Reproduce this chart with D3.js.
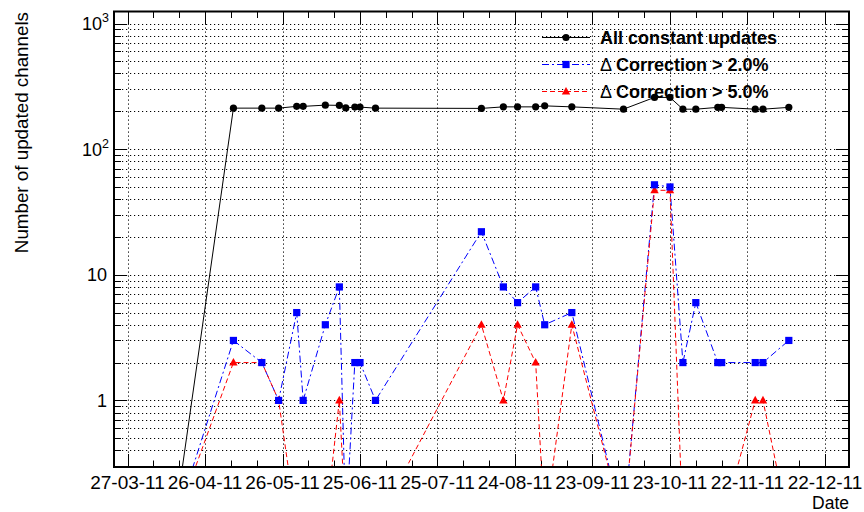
<!DOCTYPE html>
<html>
<head>
<meta charset="utf-8">
<script src="https://cdn.jsdelivr.net/npm/d3@7/dist/d3.min.js"></script>
<style>
  html, body { margin: 0; padding: 0; background: #fff; }
  svg { display: block; font-family: "Liberation Sans", Arial, Helvetica, sans-serif; }
</style>
</head>
<body>
<svg id="chart" width="864" height="512"></svg>
<script>
// ---------------- data ----------------
const dates = ["2011-04-14", "2011-05-07", "2011-05-18", "2011-05-24T12:00", "2011-05-31T12:00",
  "2011-06-03", "2011-06-11T14:00", "2011-06-17", "2011-06-19T12:00", "2011-06-23", "2011-06-25",
  "2011-07-01", "2011-08-11", "2011-08-19T12:00", "2011-08-25", "2011-09-01", "2011-09-04T12:00",
  "2011-09-15", "2011-10-05", "2011-10-17", "2011-10-23", "2011-10-28", "2011-11-02",
  "2011-11-10T12:00", "2011-11-12", "2011-11-25", "2011-11-28", "2011-12-08"];
const allUpdates = [0, 212, 212, 212, 219, 219, 224, 223, 213, 216, 216, 212, 211, 217, 217, 217, 221,
  217, 208, 258, 258, 208, 208, 215, 215, 208, 208, 215];
const corr2 = [0, 3, 2, 1, 5, 1, 4, 8, 0, 2, 2, 1, 22, 8, 6, 8, 4, 5, 0, 52, 50, 2, 6, 2, 2, 2, 2, 3];
const corr5 = [0, 2, 2, 1, 0, 0, 0, 1, 0, 0, 0, 0, 4, 1, 4, 2, 0, 4, 0, 47, 47, 0, 0, 0, 0, 1, 1, 0];
const seriesNames = ["All constant updates", "Correction > 2.0%", "Correction > 5.0%"];
const xTickLabels = ["27-03-11", "26-04-11", "26-05-11", "25-06-11", "25-07-11", "24-08-11",
  "23-09-11", "23-10-11", "22-11-11", "22-12-11"];
const yTickValues = [1, 10, 100, 1000];
const yTickLabels = [["1", ""], ["10", ""], ["10", "2"], ["10", "3"]];
const xTitle = "Date";
const yTitle = "Number of updated channels";

// ---------------- layout ----------------
const W = 864, H = 512;
const F = { left: 114, right: 849, top: 11.5, bottom: 467 };
const DAY = 864e5;
const parseDate = s => new Date(s + (s.includes("T") ? ":00Z" : "T00:00:00Z"));
const parseTick = d3.utcParse("%d-%m-%y");
const firstTick = parseTick(xTickLabels[0]);
const lastTick = parseTick(xTickLabels[xTickLabels.length - 1]);
const xDomain = [new Date(+firstTick - 5.23 * DAY), new Date(+lastTick + 9.3 * DAY)];
const yDomain = [0.295, 1246];
const ZERO_FLOOR = 0.1; // zero counts drawn at this level (out of frame on log axis)

const x = d3.scaleUtc().domain(xDomain).range([F.left, F.right]);
const y = d3.scaleLog().domain(yDomain).range([F.bottom, F.top]);

const svg = d3.select("#chart");
svg.append("rect").attr("width", W).attr("height", H).attr("fill", "#fff");

svg.append("defs").append("clipPath").attr("id", "frameClip")
  .append("rect").attr("x", F.left).attr("y", F.top)
  .attr("width", F.right - F.left).attr("height", F.bottom - F.top);

// ---------------- grid ----------------
const majorX = xTickLabels.map(parseTick);
const minorX = d3.range(-3, 30).map(i => new Date(+firstTick + i * 10 * DAY))
  .filter(d => d >= xDomain[0] && d <= xDomain[1]);
const yAll = [];
for (let e = -1; e <= 3; e++) for (let m = 1; m <= 9; m++) {
  const v = m * Math.pow(10, e);
  if (v >= yDomain[0] && v <= yDomain[1]) yAll.push(v);
}

const grid = svg.append("g").attr("stroke", "#000").attr("stroke-width", 1)
  .attr("stroke-dasharray", "1.2,2.8").attr("fill", "none");
grid.selectAll("line.gx").data(majorX).join("line")
  .attr("x1", d => Math.round(x(d)) + 0.5).attr("x2", d => Math.round(x(d)) + 0.5)
  .attr("y1", F.top).attr("y2", F.bottom);
grid.selectAll("line.gy").data(yAll).join("line").attr("class", "gy")
  .attr("x1", F.left).attr("x2", F.right)
  .attr("y1", d => Math.round(y(d)) + 0.5).attr("y2", d => Math.round(y(d)) + 0.5);

// ---------------- ticks ----------------
const ticks = svg.append("g").attr("stroke", "#000").attr("stroke-width", 1);
const xMajLen = 13, xMinLen = 6.5, yMajLen = 13, yMinLen = 7;
majorX.forEach(d => {
  const px = Math.round(x(d)) + 0.5;
  ticks.append("line").attr("x1", px).attr("x2", px).attr("y1", F.bottom).attr("y2", F.bottom - xMajLen);
  ticks.append("line").attr("x1", px).attr("x2", px).attr("y1", F.top).attr("y2", F.top + xMajLen);
});
minorX.forEach(d => {
  const px = Math.round(x(d)) + 0.5;
  ticks.append("line").attr("x1", px).attr("x2", px).attr("y1", F.bottom).attr("y2", F.bottom - xMinLen);
  ticks.append("line").attr("x1", px).attr("x2", px).attr("y1", F.top).attr("y2", F.top + xMinLen);
});
yAll.forEach(v => {
  const py = Math.round(y(v)) + 0.5;
  const len = yTickValues.includes(v) ? yMajLen : yMinLen;
  ticks.append("line").attr("x1", F.left).attr("x2", F.left + len).attr("y1", py).attr("y2", py);
  ticks.append("line").attr("x1", F.right).attr("x2", F.right - len).attr("y1", py).attr("y2", py);
});

// ---------------- series ----------------
const parsed = dates.map(parseDate);
const plotG = svg.append("g").attr("clip-path", "url(#frameClip)");
const line = d3.line().x(d => x(d[0])).y(d => y(d[1] > 0 ? d[1] : ZERO_FLOOR));

const series = [
  { values: allUpdates, color: "#000000", dash: null, marker: "circle" },
  { values: corr2, color: "#0000ff", dash: "7,3,2,3", marker: "square" },
  { values: corr5, color: "#ff0000", dash: "5,3", marker: "triangle" }
];

function drawMarker(g, type, cx, cy, color) {
  if (type === "circle") {
    g.append("circle").attr("cx", cx).attr("cy", cy).attr("r", 3.6).attr("fill", color);
  } else if (type === "square") {
    g.append("rect").attr("x", cx - 3.6).attr("y", cy - 3.6).attr("width", 7.2).attr("height", 7.2).attr("fill", color);
  } else {
    g.append("path").attr("d", `M${cx},${cy - 4.6}L${cx + 4.2},${cy + 3}L${cx - 4.2},${cy + 3}Z`).attr("fill", color);
  }
}

series.forEach(s => {
  const pts = parsed.map((d, i) => [d, s.values[i]]);
  plotG.append("path").attr("d", line(pts)).attr("fill", "none")
    .attr("stroke", s.color).attr("stroke-width", 1)
    .attr("stroke-dasharray", s.dash);
});
series.slice().reverse().forEach(s => {
  const mg = plotG.append("g");
  parsed.forEach((d, i) => {
    const v = s.values[i];
    if (v > 0) drawMarker(mg, s.marker, x(d), y(v), s.color);
  });
});

// ---------------- frame ----------------
svg.append("rect").attr("x", F.left).attr("y", F.top)
  .attr("width", F.right - F.left).attr("height", F.bottom - F.top)
  .attr("fill", "none").attr("stroke", "#000").attr("stroke-width", 2);

// ---------------- labels ----------------
const lab = svg.append("g").attr("fill", "#000").attr("font-size", 18);
majorX.forEach((d, i) => {
  lab.append("text").attr("x", x(d)).attr("y", 489).attr("font-size", 19)
    .attr("text-anchor", "middle").text(xTickLabels[i]);
});
yTickValues.forEach((v, i) => {
  const [base, sup] = yTickLabels[i];
  const t = lab.append("text").attr("y", y(v) + 6.5).attr("text-anchor", "end");
  if (sup) {
    t.attr("x", 109);
    t.append("tspan").text(base);
    t.append("tspan").attr("font-size", 12.5).attr("dy", -8).text(sup);
  } else {
    t.attr("x", 107).text(base);
  }
});
lab.append("text").attr("x", F.right).attr("y", 509).attr("font-size", 17.5)
  .attr("text-anchor", "end").text(xTitle);
lab.append("text").attr("transform", "translate(28,12) rotate(-90)").attr("text-anchor", "end")
  .attr("font-size", 18.8).text(yTitle);

// ---------------- legend ----------------
const leg = svg.append("g");
const legY = [37.5, 64.5, 91.5];
series.forEach((s, i) => {
  const ly = legY[i];
  leg.append("line").attr("x1", 542).attr("x2", 590).attr("y1", ly).attr("y2", ly)
    .attr("stroke", s.color).attr("stroke-width", 1).attr("stroke-dasharray", s.dash);
  drawMarker(leg, s.marker, 566, ly, s.color);
  const t = leg.append("text").attr("x", 600).attr("y", ly + 6.5)
    .attr("font-size", 18).attr("font-weight", "bold").attr("fill", "#000");
  if (i > 0) {
    t.append("tspan").attr("font-weight", "normal").text("\u0394 ");
    t.append("tspan").text(seriesNames[i]);
  } else {
    t.text(seriesNames[i]);
  }
});
</script>
</body>
</html>
